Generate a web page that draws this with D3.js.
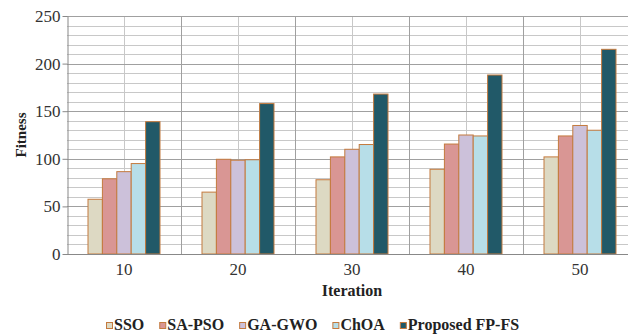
<!DOCTYPE html>
<html><head><meta charset="utf-8">
<script src="https://cdn.jsdelivr.net/npm/d3@7"></script>
<style>html,body{margin:0;padding:0;background:#fff;}svg{display:block;}text{font-family:'Liberation Serif','Times New Roman',serif;}</style>
</head><body>
<script>
const categories = ["10", "20", "30", "40", "50"];
const seriesNames = ["SSO", "SA-PSO", "GA-GWO", "ChOA", "Proposed FP-FS"];
const SSO = [57.5, 65, 78, 89, 102];
const SA_PSO = [79, 99.5, 102, 115.5, 124];
const GA_GWO = [86.5, 98.5, 110, 125, 135];
const ChOA = [95, 99, 115, 124, 130];
const FP_FS = [139, 158, 168, 188, 215];
const yTicks = [0, 50, 100, 150, 200, 250];
const colors = ["#ddd9c3", "#d99694", "#ccc1da", "#b7dee8", "#215968"];

(function () {
const seriesValues = [SSO, SA_PSO, GA_GWO, ChOA, FP_FS];
const W = 628, H = 335;
const svg = d3.select("body").append("svg").attr("width", W).attr("height", H);
const mLeft = 67, mTop = 16, mBottom = 254, bandW = 114;
const x0 = d3.scaleBand().domain(categories).range([mLeft, mLeft + bandW * categories.length]).padding(0);
const x1 = d3.scaleBand().domain(seriesNames).range([21, bandW - 21]).padding(0);
const y = d3.scaleLinear().domain([0, 250]).range([mBottom, mTop]);
const font = "'Liberation Serif','Times New Roman',serif";

const g = svg.append("g");
g.selectAll("line.minor").data(d3.range(0, 251, 10).filter(v => v % 50 !== 0)).join("line")
  .attr("x1", mLeft).attr("x2", W).attr("y1", d => Math.round(y(d)) + 0.5).attr("y2", d => Math.round(y(d)) + 0.5)
  .attr("stroke", "#c8c8c8").attr("stroke-width", 1);
g.selectAll("line.vc").data(categories).join("line")
  .attr("x1", d => Math.round(x0(d) + bandW / 2) + 0.5).attr("x2", d => Math.round(x0(d) + bandW / 2) + 0.5)
  .attr("y1", mTop).attr("y2", mBottom).attr("stroke", "#c8c8c8");
g.selectAll("line.major").data(yTicks.filter(v => v > 0)).join("line")
  .attr("x1", mLeft).attr("x2", W).attr("y1", d => Math.round(y(d)) + 0.5).attr("y2", d => Math.round(y(d)) + 0.5)
  .attr("stroke", "#a0a0a0");
g.selectAll("line.vb").data(categories.slice(1)).join("line")
  .attr("x1", d => Math.round(x0(d)) + 0.5).attr("x2", d => Math.round(x0(d)) + 0.5)
  .attr("y1", mTop).attr("y2", mBottom).attr("stroke", "#a0a0a0");

const groups = svg.selectAll("g.grp").data(categories).join("g")
  .attr("transform", d => `translate(${x0(d)},0)`);
groups.selectAll("rect").data((d, i) => seriesNames.map((s, j) => ({ s, j, v: seriesValues[j][i] }))).join("rect")
  .attr("x", d => x1(d.s)).attr("width", x1.bandwidth())
  .attr("y", d => y(d.v)).attr("height", d => mBottom - y(d.v))
  .attr("fill", d => colors[d.j]).attr("stroke", "#c47a3e").attr("stroke-width", 1);

const yAxis = d3.axisLeft(y).tickValues(yTicks).tickSize(5).tickSizeOuter(0);
const ya = svg.append("g").attr("transform", `translate(${mLeft + 0.5},0)`).call(yAxis).attr("font-family", null);
ya.select(".domain").attr("stroke", "#888");
ya.selectAll(".tick line").attr("stroke", "#888");
ya.selectAll(".tick text").style("font-family", font).style("font-size", "17px").attr("fill", "#333").attr("x", -7);

const xa = svg.append("g").attr("transform", `translate(0,${mBottom + 0.5})`)
  .call(d3.axisBottom(x0).tickSize(0).tickSizeOuter(0)).attr("font-family", null);
xa.select(".domain").attr("stroke", "#888").attr("d", `M${mLeft},0H${W}`);
xa.selectAll(".tick text").style("font-family", font).style("font-size", "17px").attr("fill", "#333").attr("dy", "1.05em");

svg.append("text").attr("x", mLeft + bandW * 2.5).attr("y", 296).attr("text-anchor", "middle")
  .style("font-family", font).attr("font-weight", "bold").style("font-size", "16px").attr("fill", "#222").text("Iteration");
svg.append("text").attr("transform", `translate(26,135) rotate(-90)`).attr("text-anchor", "middle")
  .style("font-family", font).attr("font-weight", "bold").style("font-size", "15px").attr("fill", "#222").text("Fitness");

// legend laid out sequentially
let lx = 106;
seriesNames.forEach((name, i) => {
  const lg = svg.append("g").attr("transform", `translate(${lx},322)`);
  lg.append("rect").attr("x", 0.5).attr("y", 0.5).attr("width", 6).attr("height", 6)
    .attr("fill", colors[i]).attr("stroke", "#c47a3e");
  const t = lg.append("text").attr("x", 8).attr("y", 8).style("font-family", font).attr("font-weight", "bold")
    .style("font-size", "16px").attr("fill", "#222").text(name);
  lx += 8 + t.node().getComputedTextLength() + 15;
});
})();
</script>
</body></html>
